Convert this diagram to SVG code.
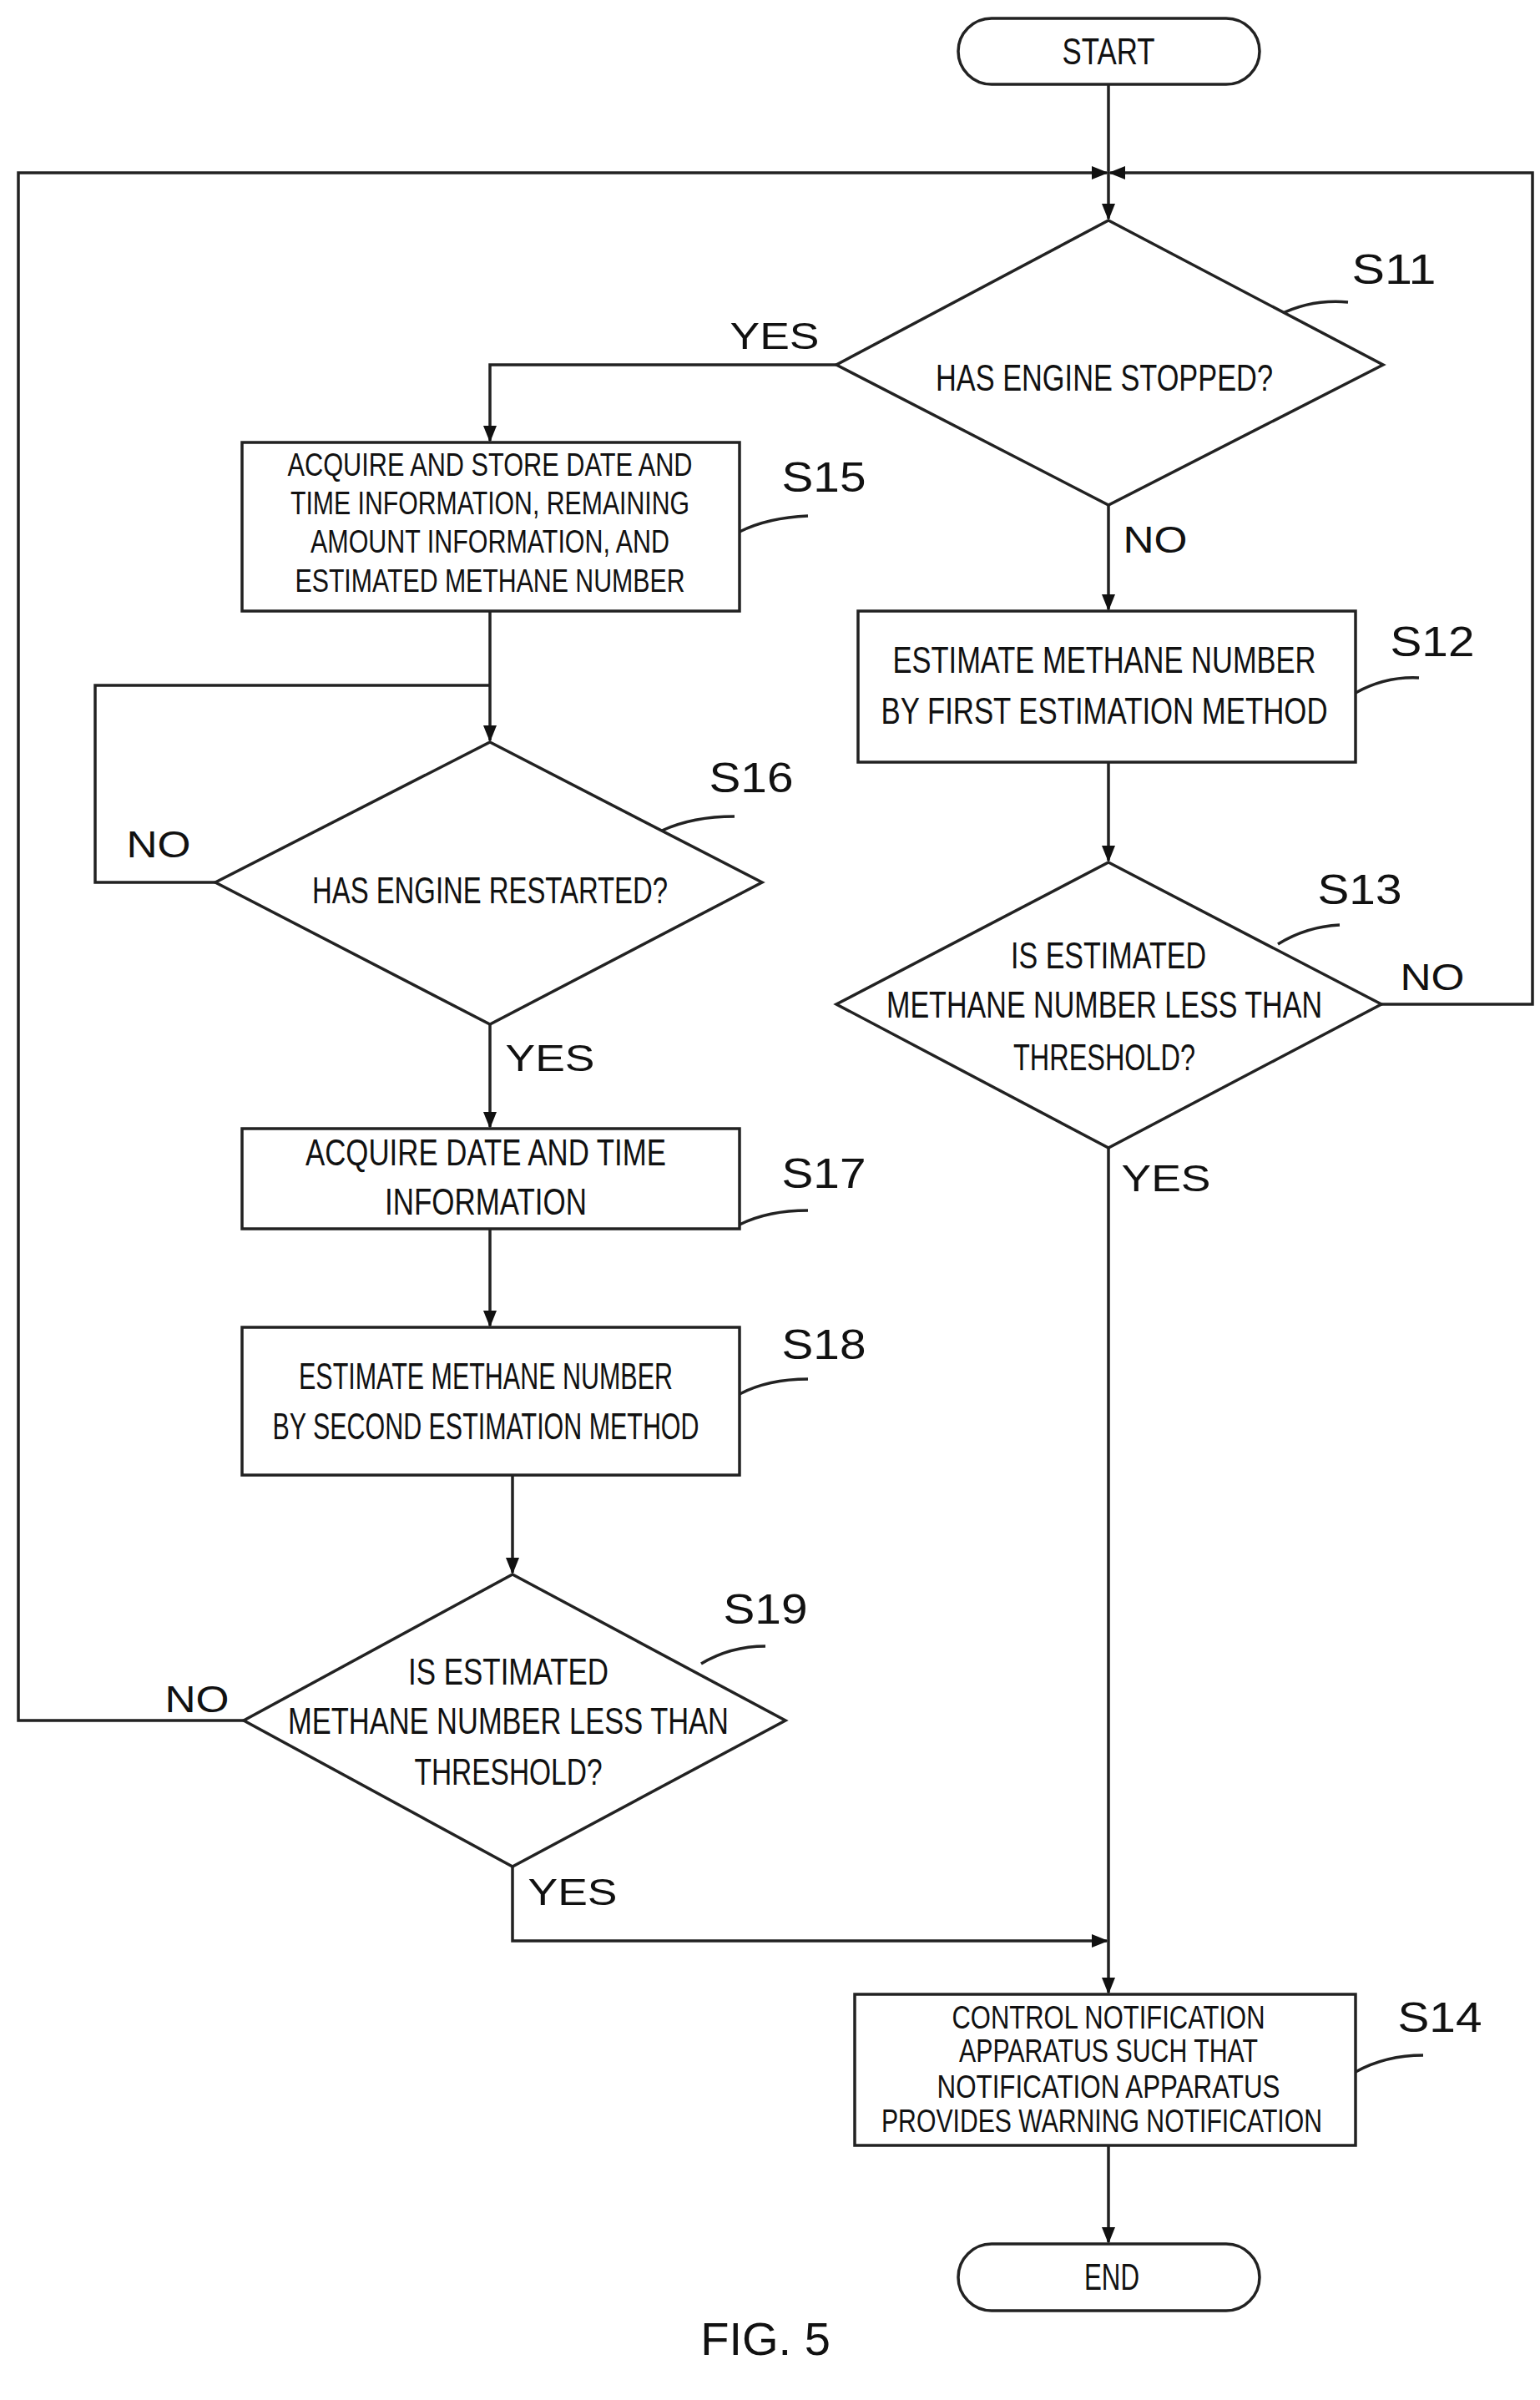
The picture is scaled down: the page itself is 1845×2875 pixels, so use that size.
<svg xmlns="http://www.w3.org/2000/svg" width="1845" height="2875" viewBox="0 0 1845 2875">
<style>
.s{fill:none;stroke:#222;stroke-width:3.5}
.n{fill:#fff;stroke:#222;stroke-width:3.5}
text{font-family:"Liberation Sans",Arial,sans-serif;fill:#111;text-anchor:middle;dominant-baseline:central}
.t{font-size:44px}
.m{font-size:38px}
.l{font-size:50px}
</style>
<defs><marker id="a" markerWidth="10" markerHeight="10" refX="9" refY="5" orient="auto" markerUnits="userSpaceOnUse" viewBox="0 0 10 10"><path d="M0,0L10,5L0,10z" fill="#111"/></marker>
<marker id="b" markerWidth="20" markerHeight="20" refX="18" refY="10" orient="auto" markerUnits="userSpaceOnUse" viewBox="0 0 20 20"><path d="M0,2L20,10L0,18z" fill="#111"/></marker></defs>
<g id="connectors" class="s">
<path d="M1328,101V207"/>
<path d="M1328,207V262" marker-end="url(#b)"/>
<path d="M1002,437H587V528" marker-end="url(#b)"/>
<path d="M1328,605V730" marker-end="url(#b)"/>
<path d="M587,732V887" marker-end="url(#b)"/>
<path d="M258,1057H114V821H587"/>
<path d="M587,1227V1350" marker-end="url(#b)"/>
<path d="M587,1472V1588" marker-end="url(#b)"/>
<path d="M614,1767V1884" marker-end="url(#b)"/>
<path d="M292,2061H22V207H1326" marker-end="url(#b)"/>
<path d="M614,2236V2325H1326" marker-end="url(#b)"/>
<path d="M1328,913V1031" marker-end="url(#b)"/>
<path d="M1655,1203H1836V207H1330" marker-end="url(#b)"/>
<path d="M1328,1375V2387" marker-end="url(#b)"/>
<path d="M1328,2570V2686" marker-end="url(#b)"/>
<path d="M1531,378Q1570,358 1615,362"/>
<path d="M886,637Q920,620 968,618"/>
<path d="M1624,830Q1660,810 1700,812"/>
<path d="M793,995Q830,978 880,978"/>
<path d="M1531,1131Q1565,1110 1605,1108"/>
<path d="M886,1467Q920,1450 968,1450"/>
<path d="M886,1670Q920,1652 968,1652"/>
<path d="M840,1993Q875,1972 917,1972"/>
<path d="M1624,2482Q1660,2462 1705,2462"/>
</g>
<g id="start"><rect class="n" x="1148" y="22" width="361" height="79" rx="40"/><text class="t" x="1328" y="61" textLength="111" lengthAdjust="spacingAndGlyphs">START</text></g>
<g id="s11"><path class="n" d="M1328,264L1657,437L1328,605L1002,437Z"/><text class="t" x="1323" y="452" textLength="404" lengthAdjust="spacingAndGlyphs">HAS ENGINE STOPPED?</text><text class="l" x="1670" y="323" textLength="101" lengthAdjust="spacingAndGlyphs">S11</text><text class="t" x="928" y="402" textLength="107" lengthAdjust="spacingAndGlyphs">YES</text><text class="t" x="1384" y="646" textLength="77" lengthAdjust="spacingAndGlyphs">NO</text></g>
<g id="s15"><rect class="n" x="290" y="530" width="596" height="202"/>
<text class="m" x="587" y="557" textLength="485" lengthAdjust="spacingAndGlyphs">ACQUIRE AND STORE DATE AND</text>
<text class="m" x="587" y="603" textLength="478" lengthAdjust="spacingAndGlyphs">TIME INFORMATION, REMAINING</text>
<text class="m" x="587" y="649" textLength="430" lengthAdjust="spacingAndGlyphs">AMOUNT INFORMATION, AND</text>
<text class="m" x="587" y="696" textLength="467" lengthAdjust="spacingAndGlyphs">ESTIMATED METHANE NUMBER</text>
<text class="l" x="987" y="572" textLength="101" lengthAdjust="spacingAndGlyphs">S15</text></g>
<g id="s16"><path class="n" d="M587,889L913,1057L587,1227L258,1057Z"/><text class="t" x="587" y="1066" textLength="426" lengthAdjust="spacingAndGlyphs">HAS ENGINE RESTARTED?</text><text class="l" x="900" y="932" textLength="101" lengthAdjust="spacingAndGlyphs">S16</text><text class="t" x="190" y="1011" textLength="77" lengthAdjust="spacingAndGlyphs">NO</text><text class="t" x="659" y="1267" textLength="107" lengthAdjust="spacingAndGlyphs">YES</text></g>
<g id="s17"><rect class="n" x="290" y="1352" width="596" height="120"/><text class="t" x="582" y="1380" textLength="432" lengthAdjust="spacingAndGlyphs">ACQUIRE DATE AND TIME</text><text class="t" x="582" y="1439" textLength="242" lengthAdjust="spacingAndGlyphs">INFORMATION</text><text class="l" x="987" y="1406" textLength="101" lengthAdjust="spacingAndGlyphs">S17</text></g>
<g id="s18"><rect class="n" x="290" y="1590" width="596" height="177"/><text class="t" x="582" y="1648" textLength="448" lengthAdjust="spacingAndGlyphs">ESTIMATE METHANE NUMBER</text><text class="t" x="582" y="1708" textLength="511" lengthAdjust="spacingAndGlyphs">BY SECOND ESTIMATION METHOD</text><text class="l" x="987" y="1611" textLength="101" lengthAdjust="spacingAndGlyphs">S18</text></g>
<g id="s19"><path class="n" d="M614,1886L941,2061L614,2236L292,2061Z"/><text class="t" x="609" y="2002" textLength="240" lengthAdjust="spacingAndGlyphs">IS ESTIMATED</text><text class="t" x="609" y="2061" textLength="528" lengthAdjust="spacingAndGlyphs">METHANE NUMBER LESS THAN</text><text class="t" x="609" y="2122" textLength="225" lengthAdjust="spacingAndGlyphs">THRESHOLD?</text><text class="l" x="917" y="1928" textLength="101" lengthAdjust="spacingAndGlyphs">S19</text><text class="t" x="236" y="2035" textLength="77" lengthAdjust="spacingAndGlyphs">NO</text><text class="t" x="686" y="2266" textLength="107" lengthAdjust="spacingAndGlyphs">YES</text></g>
<g id="s12"><rect class="n" x="1028" y="732" width="596" height="181"/><text class="t" x="1323" y="790" textLength="507" lengthAdjust="spacingAndGlyphs">ESTIMATE METHANE NUMBER</text><text class="t" x="1323" y="851" textLength="535" lengthAdjust="spacingAndGlyphs">BY FIRST ESTIMATION METHOD</text><text class="l" x="1716" y="769" textLength="101" lengthAdjust="spacingAndGlyphs">S12</text></g>
<g id="s13"><path class="n" d="M1328,1033L1655,1203L1328,1375L1002,1203Z"/><text class="t" x="1328" y="1144" textLength="234" lengthAdjust="spacingAndGlyphs">IS ESTIMATED</text><text class="t" x="1323" y="1203" textLength="522" lengthAdjust="spacingAndGlyphs">METHANE NUMBER LESS THAN</text><text class="t" x="1323" y="1266" textLength="218" lengthAdjust="spacingAndGlyphs">THRESHOLD?</text><text class="l" x="1629" y="1066" textLength="101" lengthAdjust="spacingAndGlyphs">S13</text><text class="t" x="1716" y="1170" textLength="77" lengthAdjust="spacingAndGlyphs">NO</text><text class="t" x="1397" y="1411" textLength="107" lengthAdjust="spacingAndGlyphs">YES</text></g>
<g id="s14"><rect class="n" x="1024" y="2389" width="600" height="181"/><text class="m" x="1328" y="2417" textLength="375" lengthAdjust="spacingAndGlyphs">CONTROL NOTIFICATION</text><text class="m" x="1328" y="2457" textLength="358" lengthAdjust="spacingAndGlyphs">APPARATUS SUCH THAT</text><text class="m" x="1328" y="2500" textLength="411" lengthAdjust="spacingAndGlyphs">NOTIFICATION APPARATUS</text><text class="m" x="1320" y="2541" textLength="528" lengthAdjust="spacingAndGlyphs">PROVIDES WARNING NOTIFICATION</text><text class="l" x="1725" y="2417" textLength="101" lengthAdjust="spacingAndGlyphs">S14</text></g>
<g id="end"><rect class="n" x="1148" y="2688" width="361" height="80" rx="40"/><text class="t" x="1332" y="2727" textLength="66" lengthAdjust="spacingAndGlyphs">END</text></g>
<text x="917" y="2801" style="font-size:56px">FIG. 5</text>
</svg>
